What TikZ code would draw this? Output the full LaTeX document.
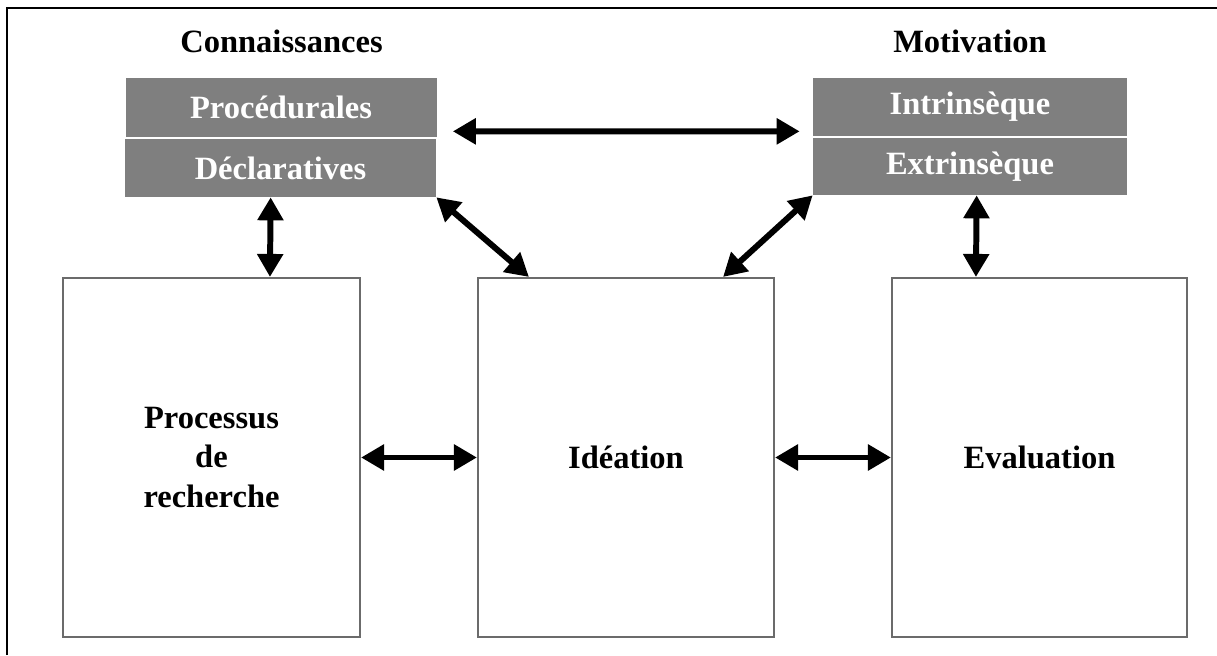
\documentclass[tikz,border=0pt]{standalone}
\usepackage{fontspec}
\setmainfont{Liberation Serif}
\usetikzlibrary{arrows.meta,calc}
\definecolor{boxgray}{HTML}{7F7F7F}
\definecolor{edgegray}{HTML}{6B6B6B}

\begin{document}
\begin{tikzpicture}[
    lbl/.style={font=\fontsize{18.5}{22.7}\selectfont\bfseries, align=center},
    graybox/.style={lbl, fill=boxgray, text=white, inner sep=0pt},
    whitebox/.style={lbl, draw=edgegray, line width=1.2pt, fill=white, inner sep=0pt,
        minimum height=7.18cm},
    arr/.style={line width=3.4pt, {Triangle[length=0.46cm,width=0.5cm]}-{Triangle[length=0.46cm,width=0.5cm]}}
]
            \useasboundingbox (0,0) rectangle (24.34,13.1);
            \draw[line width=1.6pt] (0.14,0) -- (0.14,12.94) -- (24.34,12.94);

            \node[lbl, anchor=base] (conn) at (5.63,12.04) {Connaissances};
            \node[lbl, anchor=base] (moti) at (19.40,12.04) {Motivation};

            \node[graybox, minimum width=6.22cm, minimum height=1.18cm] (proc) at (5.62,10.95) {Procédurales};
            \node[graybox, minimum width=6.22cm, minimum height=1.16cm] (decl) at (5.61,9.74) {Déclaratives};
            \node[graybox, minimum width=6.28cm, minimum height=1.16cm] (intr) at (19.40,10.96) {Intrinsèque};
            \node[graybox, minimum width=6.28cm, minimum height=1.14cm] (extr) at (19.40,9.77) {Extrinsèque};

            \node[whitebox, minimum width=5.94cm] (pr) at (4.23,3.95) {Processus\\de\\recherche};
            \node[whitebox, minimum width=5.92cm] (idea) at (12.52,3.95) {Idéation};
            \node[whitebox, minimum width=5.90cm] (eval) at (20.79,3.95) {Evaluation};

            \draw[arr] ($(proc.south east)+(0.32,0.12)$) -- ($(intr.south west)+(-0.26,0.1)$);
            \draw[arr] ($(decl.south west)+(2.92,0)$) -- ($(pr.north west)+(4.16,0)$);
            \draw[arr] ($(extr.south west)+(3.28,0)$) -- ($(eval.north west)+(1.7,0)$);
            \draw[arr] (decl.south east) -- ($(idea.north west)+(1.04,0)$);
            \draw[arr] (extr.south west) -- ($(idea.north east)+(-1.04,0)$);
            \draw[arr] (pr.east) -- (idea.west);
            \draw[arr] (idea.east) -- (eval.west);
        \end{tikzpicture}
\end{document}
